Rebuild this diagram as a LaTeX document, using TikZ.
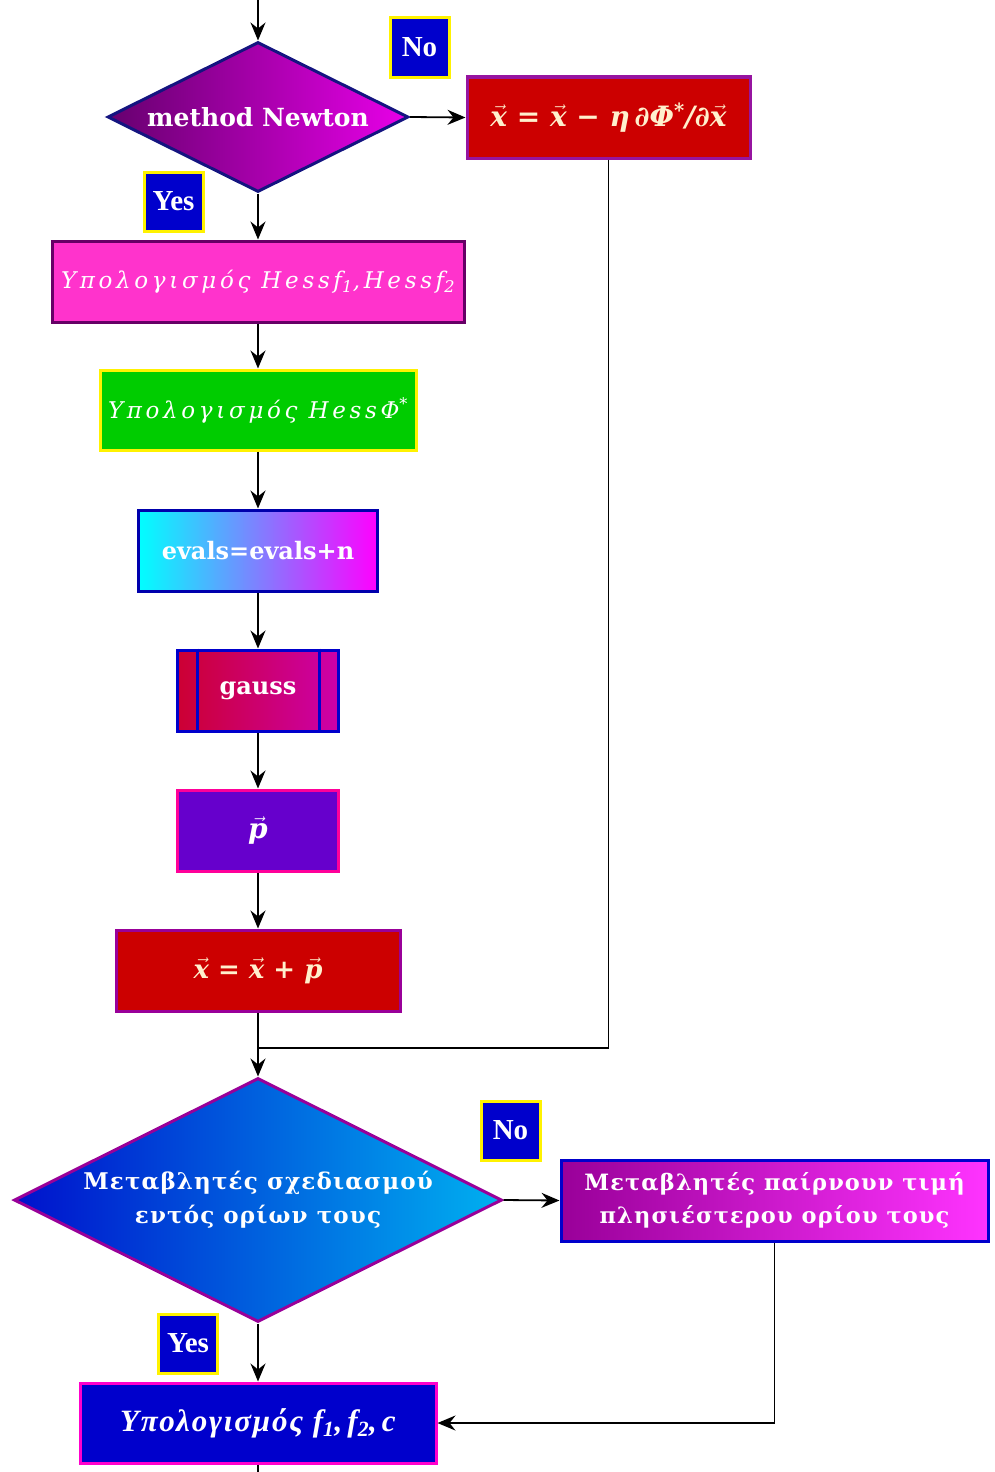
\documentclass[tikz,border=0pt]{standalone}
\usepackage{fontspec}
\usetikzlibrary{shapes.geometric,arrows.meta,calc}

\newfontfamily\lblfont{DejaVu Serif}
\newfontfamily\widegreek[LetterSpace=5]{DejaVu Serif}
\newfontfamily\greekit[LetterSpace=16]{DejaVu Serif}
\newfontfamily\formfont{DejaVu Serif}
\newfontfamily\timesfont{Liberation Serif}
\newfontfamily\timeswide[LetterSpace=6]{Liberation Serif}

% arrow accent over a letter set in the current text font
\newcommand\vecsym[1]{$\vec{\mbox{#1}}$}

\definecolor{navy}{RGB}{20,20,128}
\definecolor{dkpurple}{RGB}{102,0,110}
\definecolor{brmagenta}{RGB}{232,0,232}
\definecolor{redbox}{RGB}{204,0,0}
\definecolor{violetline}{RGB}{150,20,160}
\definecolor{pinkbox}{RGB}{255,51,204}
\definecolor{plumline}{RGB}{102,0,102}
\definecolor{greenbox}{RGB}{0,204,0}
\definecolor{bluebox}{RGB}{0,0,204}
\definecolor{indigobox}{RGB}{102,0,204}
\definecolor{hotpink}{RGB}{255,0,153}
\definecolor{cream}{RGB}{255,240,205}
\definecolor{crimson}{RGB}{204,0,51}
\definecolor{orchid}{RGB}{204,0,170}
\definecolor{deepblue}{RGB}{0,17,204}
\definecolor{skyblue}{RGB}{0,176,240}
\definecolor{purplebox}{RGB}{153,0,153}
\definecolor{lightmag}{RGB}{255,51,255}
\definecolor{magline}{RGB}{255,0,204}

\tikzset{
  box/.style={draw, line width=3pt, inner sep=2pt, minimum height=81pt,
    text=white, align=center},
  decision/.style={diamond, draw, line width=3pt, inner sep=0pt, aspect=2,
    text=white, align=center},
  answer/.style={fill=bluebox, draw=yellow, line width=3pt, inner sep=0pt,
    minimum width=59pt, minimum height=59pt, text=white,
    font=\timesfont\bfseries\fontsize{29}{29}\selectfont},
  flow/.style={-{Stealth[length=18pt,width=15pt,inset=6pt]}, line width=1.8pt},
  plain/.style={line width=1.8pt},
  formula/.style={font=\formfont\bfseries\itshape\fontsize{#1}{#1}\selectfont},
  formula/.default=26,
}

\begin{document}
\begin{tikzpicture}[x=1pt,y=-1pt]
  \useasboundingbox (0,0) rectangle (994,1472);

  % Newton branch
  \coordinate (entry) at (258,0);
  \node[decision, minimum width=301pt, minimum height=150pt, draw=navy,
        left color=dkpurple, right color=brmagenta,
        font=\lblfont\bfseries\fontsize{25}{28}\selectfont]
        (newton) at (258,117) {method Newton};
  \node[answer] (noA) at (419.5,47.5) {No};
  \node[box, formula=28, minimum width=283pt, fill=redbox, draw=violetline, text=cream]
        (grad) at (608.5,117.5)
        {\vecsym{x} = \vecsym{x} − η\,∂Φ\textsuperscript{*}/∂\vecsym{x}};
  \node[answer] (yesA) at (173.5,201.5) {Yes};

  \node[box, minimum width=412pt, fill=pinkbox, draw=plumline,
        font=\greekit\itshape\fontsize{23}{25}\selectfont]
        (hessf) at (258,281.5) {Υπολογισμός Hessf\textsubscript{1},Hessf\textsubscript{2}};
  \node[box, minimum width=316pt, minimum height=80pt, fill=greenbox, draw=yellow,
        font=\greekit\itshape\fontsize{23}{25}\selectfont]
        (hessphi) at (258,410) {Υπολογισμός HessΦ\textsuperscript{*}};
  \node[box, minimum width=239pt, left color=cyan, right color=magenta, draw=bluebox!85!black,
        font=\lblfont\bfseries\fontsize{24}{26}\selectfont]
        (evals) at (258,550.5) {evals=evals+n};
  \node[box, minimum width=161pt, left color=crimson, right color=orchid, draw=bluebox,
        font=\lblfont\bfseries\fontsize{24}{26}\selectfont]
        (gauss) at (258,690.5) {gauss};
  \draw[bluebox, line width=3pt]
    ($(gauss.north west)+(21,0)$) -- ($(gauss.south west)+(21,0)$)
    ($(gauss.north east)+(-21,0)$) -- ($(gauss.south east)+(-21,0)$);
  \node[box, formula=28, minimum width=161pt, fill=indigobox, draw=hotpink]
        (pvec) at (258,830.5) {\vecsym{p}};
  \node[box, formula, minimum width=284pt, fill=redbox, draw=purplebox, text=cream]
        (update) at (258,970.5) {\vecsym{x} = \vecsym{x} + \vecsym{p}};

  \coordinate (merge) at (258,1048);

  % bound check
  \node[decision, minimum width=488pt, minimum height=244pt, draw=purplebox,
        left color=deepblue, right color=skyblue,
        font=\widegreek\bfseries\fontsize{23}{34}\selectfont]
        (bounds) at (258,1200) {Μεταβλητές σχεδιασμού\\εντός ορίων τους};
  \node[answer] (noB) at (510.5,1130.5) {No};
  \node[box, minimum width=427pt, left color=purplebox, right color=lightmag, draw=bluebox,
        font=\widegreek\bfseries\fontsize{22.5}{33}\selectfont]
        (clamp) at (774.5,1200.5) {Μεταβλητές παίρνουν τιμή\\πλησιέστερου ορίου τους};
  \node[answer] (yesB) at (188,1343.5) {Yes};
  \node[box, minimum width=356pt, minimum height=80pt, fill=bluebox, draw=magline,
        font=\timeswide\bfseries\itshape\fontsize{31}{33}\selectfont]
        (fcalc) at (258,1423) {Υπολογισμός f\textsubscript{1},\,f\textsubscript{2},\,c};
  \coordinate (exit) at (258,1472);

  % connectors
  \draw[flow] (entry) -- (newton.north);
  \draw[flow] (newton.east) -- (grad.west);
  \draw[flow] (newton.south) -- (hessf.north);
  \draw[flow] (hessf.south) -- (hessphi.north);
  \draw[flow] (hessphi.south) -- (evals.north);
  \draw[flow] (evals.south) -- (gauss.north);
  \draw[flow] (gauss.south) -- (pvec.north);
  \draw[flow] (pvec.south) -- (update.north);
  \draw[plain] (update.south) -- (merge);
  \draw[plain] (grad.south) |- (merge);
  \draw[flow] (merge) -- (bounds.north);
  \draw[flow] (bounds.east) -- (clamp.west);
  \draw[flow] (bounds.south) -- (fcalc.north);
  \draw[flow] (clamp.south) |- (fcalc.east);
  \draw[plain] (fcalc.south) -- (exit);
\end{tikzpicture}
\end{document}
